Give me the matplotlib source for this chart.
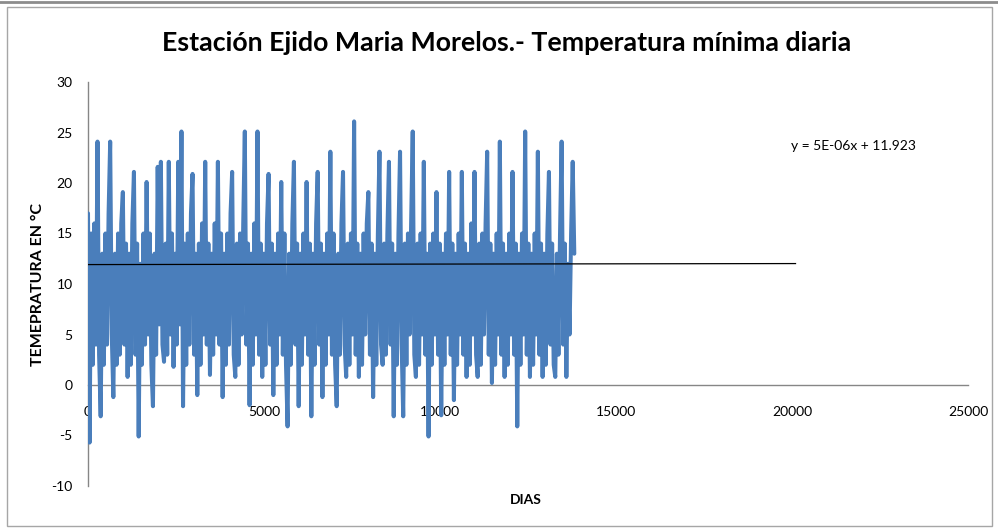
import numpy as np
import matplotlib.pyplot as plt
from matplotlib.patches import Rectangle
from matplotlib.lines import Line2D

# ------------ Data (one value every ~45 days) ------------

paso_dias = 45
tmin = [
    17, -5.7, 15, 2, 16, 4, 24.1, 3, -3.1, 13,
    2, 15, 4, 17, 24.1, 5, -1.2, 13, 2, 15,
    3, 16, 19.1, 4, 14, 0.8, 13, 2, 16, 21.1,
    3, 14, -5.1, 12, 2, 15, 4, 20.1, 5, 15,
    2, -2.1, 13, 3, 21.6, 6, 22.1, 4, 2.3, 14,
    3, 22.1, 5, 15, 1.8, 13, 4, 22.1, 6, 25.1,
    -2.1, 14, 2, 15, 4, 17, 20.9, 3, 13, -1.0,
    14, 2, 16, 5, 22.1, 4, 14, 1.0, 13, 3,
    16, 5, 22.1, 4, 15, -1.2, 13, 2, 15, 4,
    17, 21.1, 3, 0.8, 14, 2, 15, 5, 16, 25.1,
    4, 14, -2.0, 13, 2, 16, 5, 25.1, 3, 14,
    0.8, 13, 2, 16, 20.9, 4, 14, -1.0, 13, 2,
    15, 5, 20.1, 3, 15, 2, -4.1, 13, 2, 16,
    22.1, 4, 14, -2.1, 13, 2, 15, 5, 20.1, 3,
    14, -3.1, 13, 2, 16, 21.1, 4, 14, -1.2, 13,
    2, 15, 5, 23.1, 3, 15, 2, -2.1, 13, 3,
    16, 21.1, 4, 0.8, 14, 2, 15, 5, 26.1, 3,
    14, 0.8, 13, 2, 15, 5, 16, 19.1, 3, 14,
    -1.2, 13, 2, 15, 23.1, 4, 2.0, 14, 3, 15,
    22.1, 4, 14, -3.1, 13, 2, 15, 23.1, 4, -3.1,
    14, 2, 15, 5, 16, 25.1, 3, 0.8, 14, 2,
    15, 5, 22.1, 3, 13, -5.1, 14, 2, 15, 5,
    19.1, 3, 14, -3.0, 13, 2, 15, 5, 21.1, 3,
    14, -1.5, 13, 2, 15, 5, 21.1, 3, 14, 0.8,
    13, 2, 16, 5, 21.1, 3, 0.8, 14, 2, 15,
    5, 16, 23.1, 3, 14, 0.2, 13, 2, 15, 5,
    24.1, 3, 14, 0.8, 13, 2, 15, 5, 21.1, 3,
    14, -4.1, 13, 2, 15, 5, 25.1, 3, 14, 0.8,
    13, 2, 15, 5, 23.1, 3, 14, 0.8, 13, 2,
    15, 21.1, 4, 14, 2, 0.8, 13, 3, 15, 24.1,
    4, 14, 0.8, 12, 5, 15, 22.1, 13,
]

# linear trend shown by Excel (forecast forward to 20000 days)
pendiente = 5e-06
ordenada = 11.923
tendencia_x = [0, 20100]

x_ticks = [0, 5000, 10000, 15000, 20000, 25000]
y_ticks = [-10, -5, 0, 5, 10, 15, 20, 25, 30]

# ------------ Plot ------------

plt.rcParams['font.family'] = ['Lato', 'DejaVu Sans']

W, H = 998, 531
fig = plt.figure(figsize=(W / 100, H / 100), dpi=100)
ax = fig.add_axes([88 / W, 1 - 486 / H, 880 / W, 404 / H])

dias = np.arange(len(tmin)) * paso_dias
ax.plot(dias, tmin, color='#4a7ebb', linewidth=2.9,
        solid_joinstyle='round', solid_capstyle='round', zorder=3)

tx = np.array(tendencia_x, dtype=float)
ax.plot(tx, pendiente * tx + ordenada, color='black', linewidth=0.9, zorder=4)

ax.set_xlim(0, 25000)
ax.set_ylim(-10, 30)
ax.set_xticks(x_ticks)
ax.set_yticks(y_ticks)
ax.set_xticklabels([str(t) for t in x_ticks])
ax.set_yticklabels([str(t) for t in y_ticks])

ax.spines['top'].set_visible(False)
ax.spines['right'].set_visible(False)
ax.spines['bottom'].set_position(('data', 0))
for s in ['left', 'bottom']:
    ax.spines[s].set_color('#868686')
    ax.spines[s].set_linewidth(1.0)
    ax.spines[s].set_zorder(2)

ax.tick_params(axis='x', length=0, pad=15, labelsize=10, colors='black')
ax.tick_params(axis='y', length=0, pad=11, labelsize=10, colors='black')

fig.text(507 / W, 1 - 43 / H, 'Estación Ejido Maria Morelos.- Temperatura mínima diaria',
         ha='center', va='center', fontsize=19.3, fontweight='bold')
fig.text(38 / W, 1 - 285 / H, 'TEMEPRATURA EN °C', rotation=90,
         ha='center', va='center', fontsize=11.5, fontweight='bold')
fig.text(526 / W, 1 - 500 / H, 'DIAS', ha='center', va='center',
         fontsize=10, fontweight='bold')
fig.text(853 / W, 1 - 146 / H, 'y = 5E-06x + 11.923', ha='center', va='center',
         fontsize=10)

# chart frame
fig.add_artist(Rectangle((7 / W, 5 / H), 985 / W, 519 / H, transform=fig.transFigure,
                         fill=False, edgecolor='#a6a6a6', linewidth=1.0))
fig.add_artist(Line2D([0, 1], [1 - 1.5 / H, 1 - 1.5 / H], transform=fig.transFigure,
                      color='#8c8c8c', linewidth=2))

fig.savefig('out.png', dpi=100)
